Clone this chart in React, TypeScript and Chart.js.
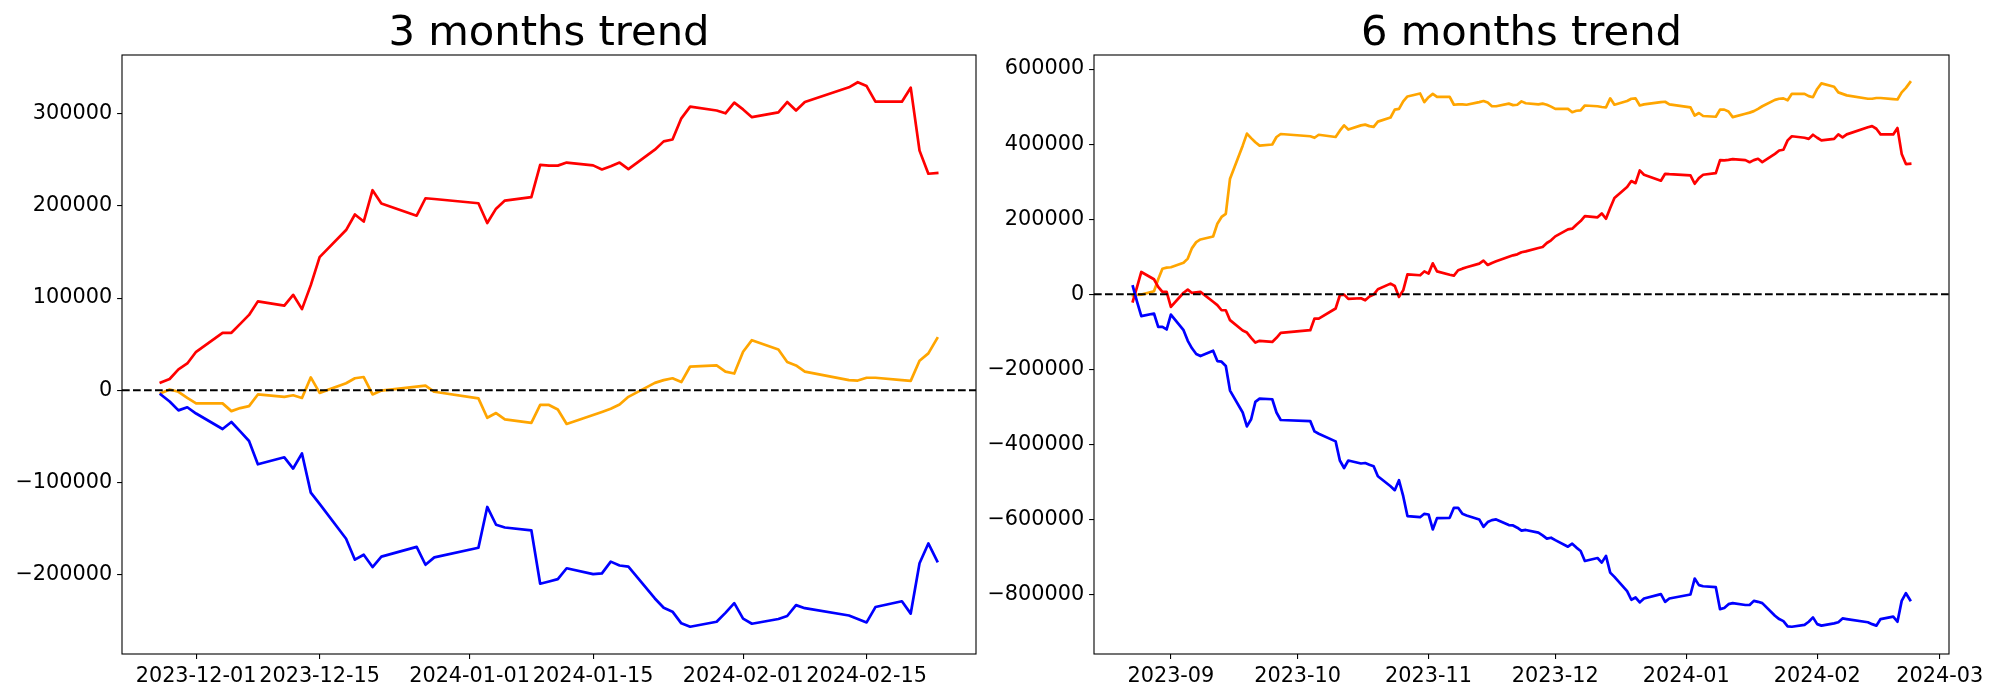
import { useEffect, useRef } from "react";
import { Chart, registerables } from "chart.js";

Chart.register(...registerables);

// ---------- 3 months trend ----------
const dates3m = [
  "2023-11-27", "2023-11-28", "2023-11-29", "2023-11-30",
  "2023-12-01", "2023-12-04", "2023-12-05", "2023-12-06", "2023-12-07", "2023-12-08",
  "2023-12-11", "2023-12-12", "2023-12-13", "2023-12-14", "2023-12-15",
  "2023-12-18", "2023-12-19", "2023-12-20", "2023-12-21", "2023-12-22",
  "2023-12-26", "2023-12-27", "2023-12-28",
  "2024-01-02", "2024-01-03", "2024-01-04", "2024-01-05",
  "2024-01-08", "2024-01-09", "2024-01-10", "2024-01-11", "2024-01-12",
  "2024-01-15", "2024-01-16", "2024-01-17", "2024-01-18", "2024-01-19",
  "2024-01-22", "2024-01-23", "2024-01-24", "2024-01-25", "2024-01-26",
  "2024-01-29", "2024-01-30", "2024-01-31",
  "2024-02-01", "2024-02-02", "2024-02-05", "2024-02-06", "2024-02-07", "2024-02-08",
  "2024-02-13", "2024-02-14", "2024-02-15", "2024-02-16",
  "2024-02-19", "2024-02-20", "2024-02-21", "2024-02-22", "2024-02-23",
];
const red3m = [
  8400, 12200, 22700, 29000,
  41700, 62300, 62300, 72000, 81700, 96400, 91800, 103500, 88000, 114000, 144400,
  173800, 190700, 183000, 217000, 202500, 189400, 208300, 207500,
  202900, 181400, 197000, 205800, 209600, 244500, 243700, 243700, 247000,
  244000, 239500, 243000, 247000, 240000, 261000, 270000, 272000, 295000, 307700,
  303500, 300500, 312000,
  304700, 296300, 301400, 312700, 303500, 312700, 328700, 334200, 330000, 313100,
  313100, 328300, 260000, 234900, 235700,
];
const orange3m = [
  -3400, 800, -1700, -8400,
  -14300, -14300, -22700, -19400, -17300, -4600, -7200, -5500, -8400, 13900, -2900,
  7600, 13000, 14300, -4600, -400, 3800, 5000, -1700,
  -8800, -29900, -24800, -31600, -35400, -16000, -16000, -21000, -36600,
  -26900, -23600, -20200, -15600, -7200, 8000, 10900, 13000, 8800, 25700,
  26900, 20200, 18100,
  41700, 54300, 44200, 30700, 26900, 20200, 10900, 10500, 13500, 13500,
  10900, 10100, 32000, 40000, 56400,
];
const blue3m = [
  -4600, -12200, -21900, -18500,
  -25300, -42100, -34500, -44600, -55100, -80400, -72800, -85000, -68600, -111100, -123300,
  -161200, -183900, -178500, -191900, -180600, -170000, -189400, -181400,
  -170900, -126700, -146000, -149000, -152000, -210000, -207500, -205000, -193200,
  -199500, -198700, -186000, -190200, -191500, -226000, -236100, -240300, -253000, -256700,
  -251300, -241600, -231100,
  -247900, -253400, -248300, -245000, -233200, -236500, -244500, -248300, -252000, -235300,
  -229000, -242400, -187700, -166300, -185600,
];
const xTicks3m = ["2023-12-01", "2023-12-15", "2024-01-01", "2024-01-15", "2024-02-01", "2024-02-15"];
const yTicks3m = [-200000, -100000, 0, 100000, 200000, 300000];

// ---------- 6 months trend ----------
const dates6m = [
  "2023-08-23", "2023-08-24", "2023-08-25", "2023-08-28", "2023-08-29", "2023-08-30", "2023-08-31",
  "2023-09-01", "2023-09-04", "2023-09-05", "2023-09-06", "2023-09-07", "2023-09-08",
  "2023-09-11", "2023-09-12", "2023-09-13", "2023-09-14", "2023-09-15",
  "2023-09-18", "2023-09-19", "2023-09-20", "2023-09-21", "2023-09-22",
  "2023-09-25", "2023-09-26", "2023-09-27",
  "2023-10-04", "2023-10-05", "2023-10-06", "2023-10-10", "2023-10-11", "2023-10-12", "2023-10-13",
  "2023-10-16", "2023-10-17", "2023-10-18", "2023-10-19", "2023-10-20",
  "2023-10-23", "2023-10-24", "2023-10-25", "2023-10-26", "2023-10-27", "2023-10-30", "2023-10-31",
  "2023-11-01", "2023-11-02", "2023-11-03", "2023-11-06", "2023-11-07", "2023-11-08", "2023-11-09", "2023-11-10",
  "2023-11-13", "2023-11-14", "2023-11-15", "2023-11-16", "2023-11-17",
  "2023-11-20", "2023-11-21", "2023-11-22", "2023-11-23", "2023-11-24",
  "2023-11-27", "2023-11-28", "2023-11-29", "2023-11-30",
  "2023-12-01", "2023-12-04", "2023-12-05", "2023-12-06", "2023-12-07", "2023-12-08",
  "2023-12-11", "2023-12-12", "2023-12-13", "2023-12-14", "2023-12-15",
  "2023-12-18", "2023-12-19", "2023-12-20", "2023-12-21", "2023-12-22",
  "2023-12-26", "2023-12-27", "2023-12-28",
  "2024-01-02", "2024-01-03", "2024-01-04", "2024-01-05",
  "2024-01-08", "2024-01-09", "2024-01-10", "2024-01-11", "2024-01-12",
  "2024-01-15", "2024-01-16", "2024-01-17", "2024-01-18", "2024-01-19",
  "2024-01-22", "2024-01-23", "2024-01-24", "2024-01-25", "2024-01-26",
  "2024-01-29", "2024-01-30", "2024-01-31",
  "2024-02-01", "2024-02-02", "2024-02-05", "2024-02-06", "2024-02-07", "2024-02-08",
  "2024-02-13", "2024-02-14", "2024-02-15", "2024-02-16",
  "2024-02-19", "2024-02-20", "2024-02-21", "2024-02-22", "2024-02-23",
];
const red6m = [
  -18600, 20000, 59400, 40000, 19500, 6200, 6200,
  -33700, 4000, 12400, 3500, 5000, 6200, -20000, -29000, -42600, -42600, -69000,
  -96700, -102000, -116000, -128600, -124000, -127000, -116000, -103000,
  -95800, -64800, -64800, -38000, -2700, -900, -12400, -10600, -16000, -6200, -1000, 13300,
  28400, 22000, -7000, 10600, 53000, 50600, 61000,
  55000, 82500, 61000, 52000, 49700, 63900, 68300, 71800, 81600, 89600, 78000, 83400, 87800,
  100000, 103800, 106400, 111800, 114400, 123300, 126000, 136600, 143700,
  154300, 173000, 174700, 185400, 195000, 208400, 205000, 215500, 201300, 229700, 256300,
  285600, 301600, 296000, 330000, 318400, 302500, 321000, 320000,
  316700, 294500, 309600, 318400, 323000, 357500, 356600, 358000, 360000,
  357500, 352000, 357500, 361000, 352000, 374000, 383000, 385000, 410000, 421000,
  417000, 414000, 425000,
  417000, 410000, 414000, 426000, 418000, 426000, 445000, 448000, 441000, 426000,
  426000, 443000, 374000, 347000, 348000,
];
const orange6m = [
  -2700, -1800, -1000, 8000, 40000, 68000, 71000,
  72000, 84000, 95000, 123000, 139000, 146000, 154000, 188000, 206000, 214000, 308000,
  396000, 428000, 416000, 405000, 396000, 399000, 419000, 427000,
  421000, 417000, 425000, 419000, 436000, 450000, 439000, 450000, 452000, 448000, 446000, 460000,
  471000, 492000, 494000, 514000, 527000, 535000, 512000,
  525000, 534000, 526000, 526000, 505000, 506000, 506000, 505000, 512000, 515000, 511000, 501000, 501000,
  508000, 504000, 505000, 514000, 509000, 506000, 508000, 505000, 500000,
  494000, 494000, 485000, 489000, 490000, 503000, 501000, 499000, 498000, 522000, 505000,
  515000, 521000, 522000, 503000, 506000, 512000, 513000, 506000,
  498000, 476000, 483000, 475000, 473000, 492000, 492000, 487000, 472000,
  481000, 484000, 488000, 494000, 501000, 518000, 521000, 522000, 517000, 534000,
  534000, 528000, 525000,
  547000, 562000, 553000, 538000, 534000, 530000, 521000, 521000, 523000, 523000,
  520000, 519000, 538000, 550000, 565000,
];
const blue6m = [
  21000, -20000, -58400, -51300, -86700, -86700, -93800,
  -54000, -95600, -124000, -144000, -159000, -164600, -150500, -178000, -179700, -191000, -256700,
  -315000, -352000, -333000, -286700, -278000, -279700, -315000, -335000,
  -338000, -365500, -371700, -392000, -443000, -463000, -443000, -451000, -449600, -454000, -458000, -485000,
  -511500, -522000, -495600, -538000, -591000, -594000, -585000,
  -586800, -626600, -596500, -595600, -569000, -569000, -585000, -589400, -600000, -619500, -607000, -601800, -600000,
  -615000, -616000, -622000, -630000, -628000, -635000, -642500, -651000, -648700,
  -655000, -672600, -664600, -675000, -684000, -710600, -702700, -715000, -697000, -741600, -753000,
  -791000, -814000, -808000, -821000, -810700, -799000, -819500, -810700,
  -800000, -757600, -775000, -778000, -780600, -839000, -836000, -825700, -823000,
  -828000, -828000, -817000, -819500, -823000, -856700, -865500, -871000, -885000, -886000,
  -881000, -872600, -861000,
  -879000, -883000, -877000, -874000, -863800, -865500, -874000, -879000, -883000, -865500,
  -859000, -872600, -817000, -796500, -815000,
];
const xTicks6m = ["2023-09-01", "2023-10-01", "2023-11-01", "2023-12-01", "2024-01-01", "2024-02-01", "2024-03-01"];
const yTicks6m = [-800000, -600000, -400000, -200000, 0, 200000, 400000, 600000];

const FONT = "'DejaVu Sans', 'Liberation Sans', sans-serif";

const zeroLineAndFrame = {
  id: "zeroLineAndFrame",
  afterDatasetsDraw(chart: any) {
    const { ctx, chartArea: a, scales } = chart;
    const y0 = scales.y.getPixelForValue(0);
    ctx.save();
    ctx.strokeStyle = "#000";
    ctx.lineWidth = 2;
    ctx.setLineDash([7.7, 3.3]);
    ctx.beginPath();
    ctx.moveTo(a.left, y0);
    ctx.lineTo(a.right, y0);
    ctx.stroke();
    ctx.setLineDash([]);
    ctx.lineWidth = 1.1;
    ctx.strokeRect(a.left, a.top, a.right - a.left, a.bottom - a.top);
    ctx.restore();
  },
};

function fmtNum(v: number) {
  return v < 0 ? "\u2212" + String(Math.abs(v)) : String(v);
}

type Props = {
  title: string;
  dates: string[];
  red: number[];
  orange: number[];
  blue: number[];
  xTicks: string[];
  xLabelLen: number;
  yTicks: number[];
  left: number;
  width: number;
  yWidth: number;
  padRight: number;
};

function TrendChart(p: Props) {
  const ref = useRef<HTMLCanvasElement | null>(null);
  useEffect(() => {
    const xs = p.dates.map((d) => Date.parse(d));
    const x0 = xs[0];
    const x1 = xs[xs.length - 1];
    const xm = (x1 - x0) * 0.05;
    const all = [...p.red, ...p.orange, ...p.blue];
    const y0 = Math.min(...all);
    const y1 = Math.max(...all);
    const ym = (y1 - y0) * 0.05;
    const mk = (vals: number[]) => vals.map((v, i) => ({ x: xs[i], y: v }));
    const line = (label: string, color: string, vals: number[]) => ({
      label,
      data: mk(vals),
      borderColor: color,
      backgroundColor: color,
      borderWidth: 2.7,
      pointRadius: 0,
      tension: 0,
      fill: false,
      borderJoinStyle: "round" as const,
      borderCapStyle: "square" as const,
    });
    const chart = new Chart(ref.current as HTMLCanvasElement, {
      type: "line",
      data: {
        datasets: [
          line("blue", "#0000ff", p.blue),
          line("red", "#ff0000", p.red),
          line("orange", "#ffa500", p.orange),
        ],
      },
      options: {
        animation: false,
        responsive: false,
        devicePixelRatio: 1,
        layout: { padding: { top: 0, left: 0, right: p.padRight, bottom: 0 } },
        plugins: {
          legend: { display: false },
          tooltip: { enabled: false },
          title: {
            display: true,
            text: p.title,
            fullSize: false,
            color: "#000",
            font: { family: FONT, size: 41.7, weight: "normal", lineHeight: 1 },
            padding: { top: 13.3, bottom: 0 },
          },
        },
        scales: {
          x: {
            type: "linear",
            min: x0 - xm,
            max: x1 + xm,
            afterBuildTicks: (s: any) => {
              s.ticks = p.xTicks.map((d) => ({ value: Date.parse(d) }));
            },
            afterFit: (s: any) => {
              s.height = 46;
            },
            ticks: {
              autoSkip: false,
              maxRotation: 0,
              minRotation: 0,
              padding: 4.9,
              color: "#000",
              font: { family: FONT, size: 20.8 },
              callback: (v: any) => new Date(Number(v)).toISOString().slice(0, p.xLabelLen),
            },
            grid: {
              display: true,
              drawOnChartArea: false,
              drawTicks: true,
              tickLength: 4.9,
              color: "#000",
              lineWidth: 1.1,
            },
            border: { display: false },
          },
          y: {
            type: "linear",
            min: y0 - ym,
            max: y1 + ym,
            afterBuildTicks: (s: any) => {
              s.ticks = p.yTicks.map((v) => ({ value: v }));
            },
            afterFit: (s: any) => {
              s.width = p.yWidth;
            },
            ticks: {
              padding: 4.9,
              color: "#000",
              font: { family: FONT, size: 20.8 },
              callback: (v: any) => fmtNum(Number(v)),
            },
            grid: {
              display: true,
              drawOnChartArea: false,
              drawTicks: true,
              tickLength: 4.9,
              color: "#000",
              lineWidth: 1.1,
            },
            border: { display: false },
          },
        },
      },
      plugins: [zeroLineAndFrame],
    });
    return () => chart.destroy();
  }, []);
  return (
    <canvas
      ref={ref}
      width={p.width}
      height={700}
      style={{ position: "absolute", left: p.left, top: 0, width: p.width, height: 700 }}
    />
  );
}

export default function App() {
  return (
    <div style={{ position: "absolute", left: 0, top: 0, width: 2000, height: 700, background: "#fff" }}>
      <TrendChart
        title="3 months trend"
        dates={dates3m}
        red={red3m}
        orange={orange3m}
        blue={blue3m}
        xTicks={xTicks3m}
        xLabelLen={10}
        yTicks={yTicks3m}
        left={0}
        width={1000}
        yWidth={122}
        padRight={24}
      />
      <TrendChart
        title="6 months trend"
        dates={dates6m}
        red={red6m}
        orange={orange6m}
        blue={blue6m}
        xTicks={xTicks6m}
        xLabelLen={7}
        yTicks={yTicks6m}
        left={980}
        width={1020}
        yWidth={114}
        padRight={51}
      />
    </div>
  );
}
